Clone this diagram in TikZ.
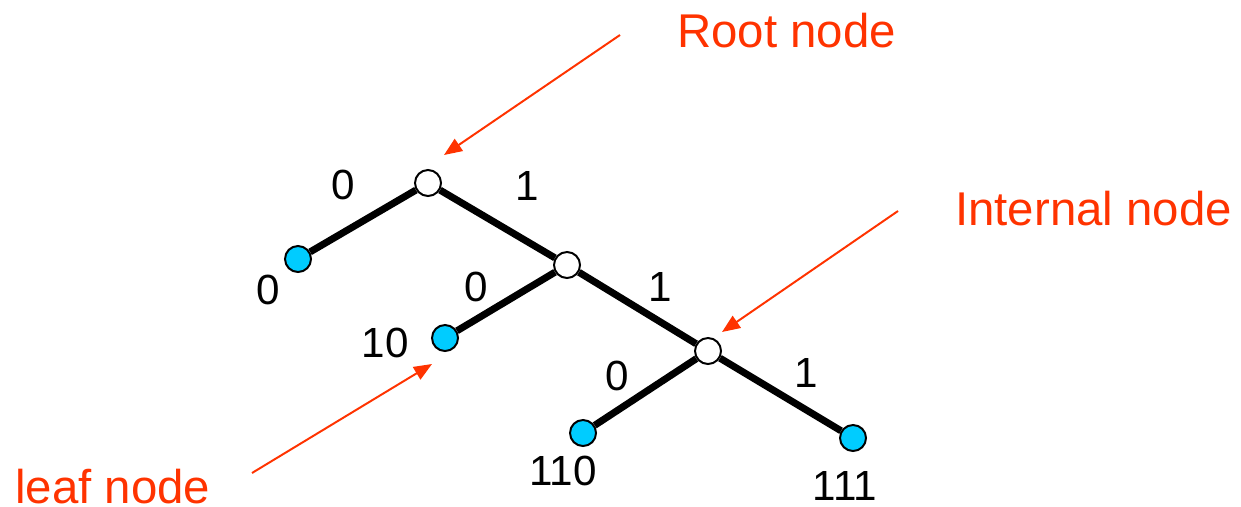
\documentclass[tikz,border=0pt]{standalone}
\usepackage{fontspec}
\setmainfont{Liberation Sans}
\usetikzlibrary{arrows.meta}
\definecolor{leafblue}{HTML}{00CCFF}
\definecolor{notered}{HTML}{FF3300}

\begin{document}
\begin{tikzpicture}[x=0.025cm,y=-0.025cm,
    splitnode/.style={circle,draw,line width=1.4pt,fill=white,minimum size=0.65cm,inner sep=0pt},
    leafnode/.style={splitnode,fill=leafblue},
    branch/.style={line width=5pt},
    bit/.style={font=\fontsize{30}{30}\selectfont,inner sep=0pt},
    notetext/.style={text=notered,font=\fontsize{33.7}{34}\selectfont,inner sep=0pt,anchor=base west},
    pointer/.style={draw=notered,line width=1.4pt,-{Triangle[length=0.45cm,width=0.36cm]}}]
  \useasboundingbox (0,0) rectangle (1241,506);
  % the tree
  \node[splitnode] (root) at (428,183) {};
  \node[splitnode] (inA) at (567,265) {};
  \node[splitnode] (inB) at (708,351) {};
  \node[leafnode] (leaf0) at (298,259) {};
  \node[leafnode] (leaf10) at (445,338) {};
  \node[leafnode] (leaf110) at (583,433) {};
  \node[leafnode] (leaf111) at (853,438) {};
  \draw[branch] (root) -- (leaf0);
  \draw[branch] (root) -- (inA);
  \draw[branch] (inA) -- (leaf10);
  \draw[branch] (inA) -- (inB);
  \draw[branch] (inB) -- (leaf110);
  \draw[branch] (inB) -- (leaf111);
  % bits on the branches
  \node[bit] (b0) at (343,185) {0};
  \node[bit] (b1) at (527,186) {1};
  \node[bit] (b10) at (476,287) {0};
  \node[bit] (b11) at (660,287) {1};
  \node[bit] (b110) at (617,376) {0};
  \node[bit] (b111) at (806,373) {1};
  % codes at the leaves
  \node[bit] (c0) at (268,290) {0};
  \node[bit] (c10) at (385,343) {10};
  \node[bit] (c110) at (563,471) {110};
  \node[bit] (c111) at (845,486) {111};
  % notes
  \node[notetext] (rootnote) at (677,47) {Root node};
  \node[notetext] (innote) at (955,225) {Internal node};
  \node[notetext] (leafnote) at (15,503) {leaf node};
  \coordinate (rootfrom) at (620,35);
  \coordinate (rootto) at (444,155);
  \coordinate (infrom) at (898,211);
  \coordinate (into) at (722,332);
  \coordinate (leaffrom) at (252,473);
  \coordinate (leafto) at (432,364);
  \draw[pointer] (rootfrom) -- (rootto);
  \draw[pointer] (infrom) -- (into);
  \draw[pointer] (leaffrom) -- (leafto);
\end{tikzpicture}
\end{document}
